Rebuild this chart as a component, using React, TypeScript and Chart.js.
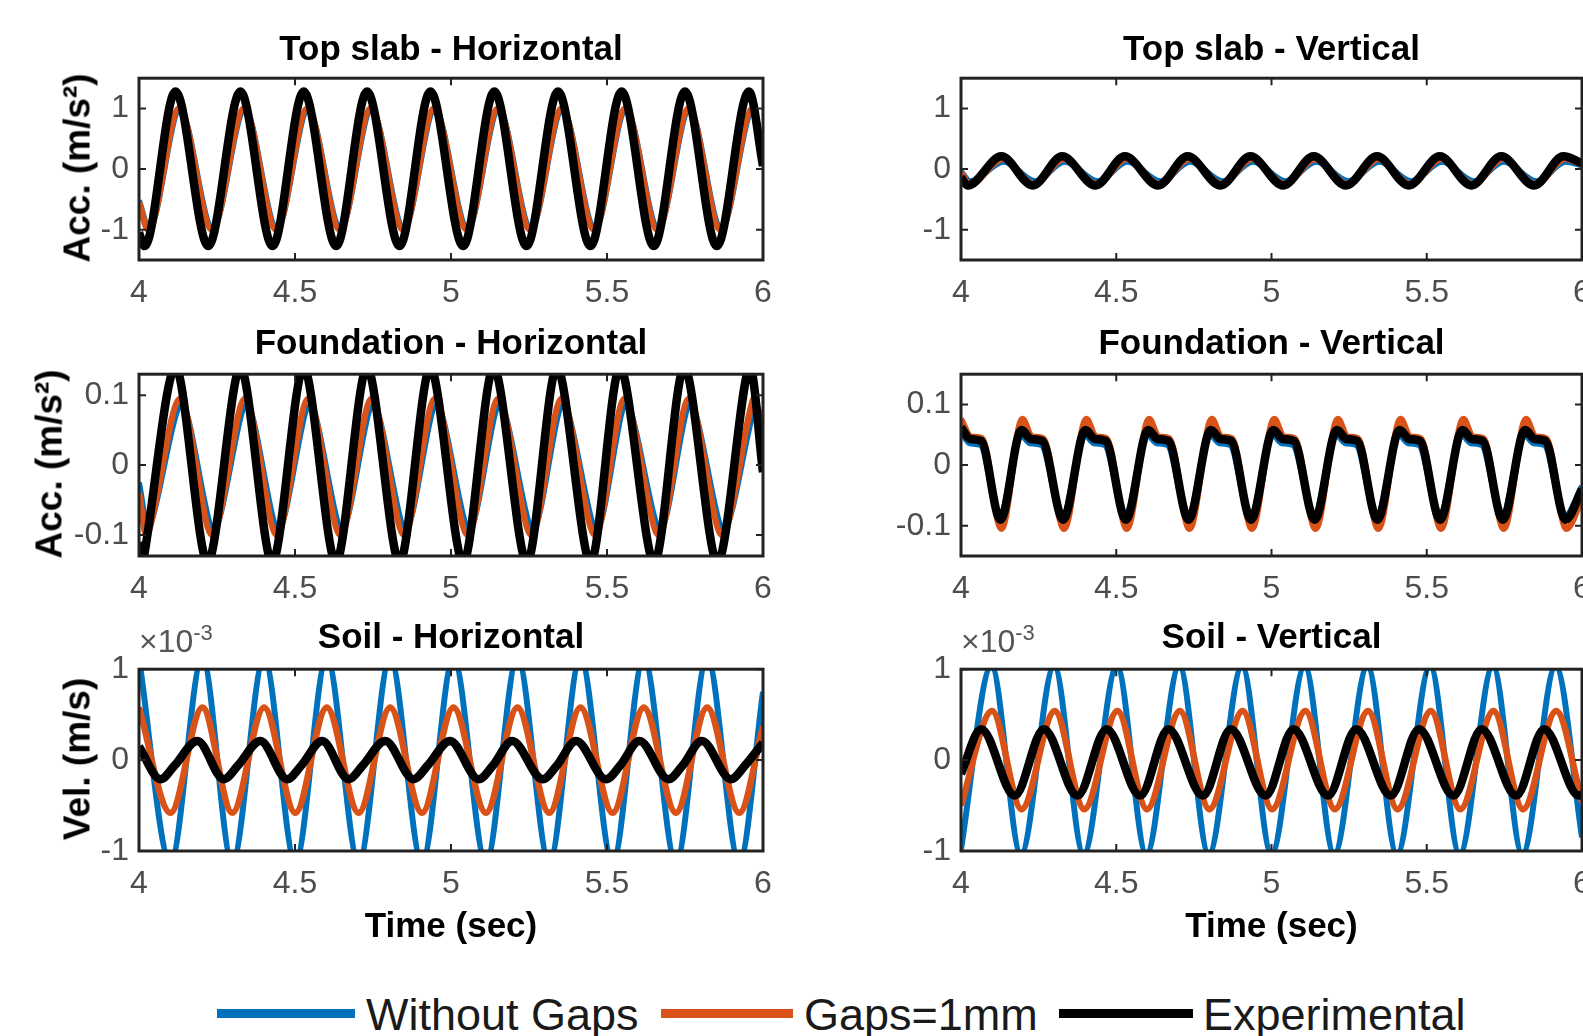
import React, { useEffect, useRef } from "react";
import { Chart, registerables } from "chart.js";

Chart.register(...registerables);

type Pt = [number, number];

// ---------- labels ----------
const seriesNames = ["Without Gaps", "Gaps=1mm", "Experimental"];
const xTicks = [4, 4.5, 5, 5.5, 6];
const accTicks = [-1, 0, 1];
const fndTicks = [-0.1, 0, 0.1];
const velTicks = [-1, 0, 1]; // ×10^-3 m/s

// ---------- Top slab - Horizontal (m/s^2) ----------
const topHNoGap: Pt[] = [[4.000,-0.52],[4.032,-0.97],[4.131,0.97],[4.236,-0.97],[4.339,0.97],[4.442,-0.97],[4.542,0.97],[4.646,-0.97],[4.745,0.97],[4.849,-0.97],[4.948,0.97],[5.053,-0.97],[5.153,0.97],[5.256,-0.97],[5.357,0.97],[5.461,-0.97],[5.561,0.97],[5.664,-0.97],[5.764,0.97],[5.866,-0.97],[5.969,0.97],[6.000,0.15]];
const topHGap: Pt[] = [[4.000,-0.55],[4.030,-1.00],[4.129,1.00],[4.234,-1.00],[4.337,1.00],[4.440,-1.00],[4.540,1.00],[4.644,-1.00],[4.743,1.00],[4.847,-1.00],[4.946,1.00],[5.051,-1.00],[5.151,1.00],[5.254,-1.00],[5.355,1.00],[5.459,-1.00],[5.559,1.00],[5.662,-1.00],[5.762,1.00],[5.864,-1.00],[5.967,1.00],[6.000,0.12]];
const topHExp: Pt[] = [[4.000,-1.05],[4.018,-1.27],[4.117,1.28],[4.222,-1.27],[4.325,1.28],[4.428,-1.27],[4.528,1.28],[4.632,-1.27],[4.731,1.28],[4.835,-1.27],[4.934,1.28],[5.039,-1.27],[5.139,1.28],[5.242,-1.27],[5.343,1.28],[5.447,-1.27],[5.547,1.28],[5.650,-1.27],[5.750,1.28],[5.852,-1.27],[5.955,1.28],[6.000,0.05]];

// ---------- Top slab - Vertical (m/s^2) ----------
const topVNoGap: Pt[] = [[4.000,-0.04],[4.030,-0.20],[4.138,0.12],[4.239,-0.20],[4.334,0.12],[4.441,-0.20],[4.536,0.12],[4.643,-0.20],[4.738,0.12],[4.844,-0.20],[4.940,0.12],[5.046,-0.20],[5.144,0.12],[5.248,-0.20],[5.348,0.12],[5.450,-0.20],[5.550,0.12],[5.652,-0.20],[5.748,0.12],[5.854,-0.20],[5.948,0.12],[6.000,0.06]];
const topVGap: Pt[] = [[4.000,-0.06],[4.028,-0.25],[4.135,0.17],[4.236,-0.25],[4.331,0.17],[4.438,-0.25],[4.533,0.17],[4.640,-0.25],[4.735,0.17],[4.841,-0.25],[4.937,0.17],[5.043,-0.25],[5.141,0.17],[5.245,-0.25],[5.345,0.17],[5.447,-0.25],[5.547,0.17],[5.649,-0.25],[5.745,0.17],[5.851,-0.25],[5.945,0.17],[6.000,0.08]];
const topVExp: Pt[] = [[4.000,-0.14],[4.022,-0.27],[4.130,0.21],[4.231,-0.27],[4.326,0.21],[4.433,-0.27],[4.528,0.21],[4.635,-0.27],[4.730,0.21],[4.836,-0.27],[4.932,0.21],[5.038,-0.27],[5.136,0.21],[5.240,-0.27],[5.340,0.21],[5.442,-0.27],[5.542,0.21],[5.644,-0.27],[5.740,0.21],[5.846,-0.27],[5.940,0.21],[6.000,0.10]];

// ---------- Foundation - Horizontal (m/s^2) ----------
const fndHNoGap: Pt[] = [[4.000,-0.025],[4.032,-0.09],[4.137,0.085],[4.240,-0.09],[4.345,0.085],[4.447,-0.09],[4.548,0.085],[4.651,-0.09],[4.751,0.085],[4.855,-0.09],[4.954,0.085],[5.059,-0.09],[5.157,0.085],[5.263,-0.09],[5.360,0.085],[5.467,-0.09],[5.562,0.085],[5.671,-0.09],[5.768,0.085],[5.874,-0.09],[5.975,0.085],[6.000,0.06]];
const fndHGap: Pt[] = [[4.000,-0.04],[4.027,-0.10],[4.132,0.095],[4.235,-0.10],[4.340,0.095],[4.442,-0.10],[4.543,0.095],[4.646,-0.10],[4.746,0.095],[4.850,-0.10],[4.949,0.095],[5.054,-0.10],[5.152,0.095],[5.258,-0.10],[5.355,0.095],[5.462,-0.10],[5.557,0.095],[5.666,-0.10],[5.763,0.095],[5.869,-0.10],[5.970,0.095],[6.000,0.025]];
const fndHExp: Pt[] = [[4.000,-0.11],[4.012,-0.14],[4.117,0.14],[4.220,-0.14],[4.325,0.14],[4.427,-0.14],[4.528,0.14],[4.631,-0.14],[4.731,0.14],[4.835,-0.14],[4.934,0.14],[5.039,-0.14],[5.137,0.14],[5.243,-0.14],[5.340,0.14],[5.447,-0.14],[5.542,0.14],[5.651,-0.14],[5.748,0.14],[5.854,-0.14],[5.955,0.14],[6.000,-0.01]];

// ---------- Foundation - Vertical (m/s^2) ----------
const fndVNoGap: Pt[] = [[4.000,0.055],[4.028,0.036],[4.063,0.033],[4.124,-0.085],[4.192,0.050],[4.222,0.036],[4.259,0.033],[4.326,-0.085],[4.398,0.050],[4.428,0.036],[4.463,0.033],[4.528,-0.085],[4.600,0.050],[4.630,0.036],[4.665,0.033],[4.730,-0.085],[4.802,0.050],[4.832,0.036],[4.867,0.033],[4.931,-0.085],[5.003,0.050],[5.033,0.036],[5.069,0.033],[5.136,-0.085],[5.208,0.050],[5.238,0.036],[5.273,0.033],[5.338,-0.085],[5.410,0.050],[5.440,0.036],[5.475,0.033],[5.540,-0.085],[5.612,0.050],[5.642,0.036],[5.677,0.033],[5.742,-0.085],[5.814,0.050],[5.844,0.036],[5.879,0.033],[5.944,-0.085],[6.000,-0.035]];
const fndVGap: Pt[] = [[4.000,0.076],[4.032,0.047],[4.068,0.044],[4.130,-0.105],[4.198,0.076],[4.228,0.047],[4.265,0.044],[4.332,-0.105],[4.404,0.076],[4.434,0.047],[4.469,0.044],[4.534,-0.105],[4.606,0.076],[4.636,0.047],[4.671,0.044],[4.736,-0.105],[4.808,0.076],[4.838,0.047],[4.873,0.044],[4.937,-0.105],[5.009,0.076],[5.039,0.047],[5.075,0.044],[5.142,-0.105],[5.214,0.076],[5.244,0.047],[5.279,0.044],[5.344,-0.105],[5.416,0.076],[5.446,0.047],[5.481,0.044],[5.546,-0.105],[5.618,0.076],[5.648,0.047],[5.683,0.044],[5.748,-0.105],[5.820,0.076],[5.850,0.047],[5.885,0.044],[5.950,-0.105],[6.000,-0.055]];
const fndVExp: Pt[] = [[4.000,0.062],[4.030,0.043],[4.065,0.040],[4.127,-0.090],[4.195,0.058],[4.225,0.043],[4.262,0.040],[4.329,-0.090],[4.401,0.058],[4.431,0.043],[4.466,0.040],[4.531,-0.090],[4.603,0.058],[4.633,0.043],[4.668,0.040],[4.733,-0.090],[4.805,0.058],[4.835,0.043],[4.870,0.040],[4.934,-0.090],[5.006,0.058],[5.036,0.043],[5.072,0.040],[5.139,-0.090],[5.211,0.058],[5.241,0.043],[5.276,0.040],[5.341,-0.090],[5.413,0.058],[5.443,0.043],[5.478,0.040],[5.543,-0.090],[5.615,0.058],[5.645,0.043],[5.680,0.040],[5.745,-0.090],[5.817,0.058],[5.847,0.043],[5.882,0.040],[5.947,-0.090],[6.000,-0.040]];

// ---------- Soil - Horizontal (×10^-3 m/s) ----------
const soilHNoGap: Pt[] = [[4.000,1.12],[4.101,-1.12],[4.203,1.12],[4.299,-1.12],[4.401,1.12],[4.501,-1.12],[4.602,1.12],[4.704,-1.12],[4.805,1.12],[4.907,-1.12],[5.008,1.12],[5.112,-1.12],[5.213,1.12],[5.315,-1.12],[5.415,1.12],[5.518,-1.12],[5.618,1.12],[5.721,-1.12],[5.821,1.12],[5.924,-1.12],[6.000,0.75]];
const soilHGap: Pt[] = [[4.000,0.58],[4.101,-0.58],[4.203,0.58],[4.299,-0.58],[4.401,0.58],[4.501,-0.58],[4.602,0.58],[4.704,-0.58],[4.805,0.58],[4.907,-0.58],[5.008,0.58],[5.112,-0.58],[5.213,0.58],[5.315,-0.58],[5.415,0.58],[5.518,-0.58],[5.618,0.58],[5.721,-0.58],[5.821,0.58],[5.924,-0.58],[6.000,0.37]];
const soilHExp: Pt[] = [[4.000,0.15],[4.069,-0.21],[4.114,-0.06],[4.187,0.21],[4.272,-0.21],[4.317,-0.06],[4.389,0.21],[4.475,-0.21],[4.520,-0.06],[4.587,0.21],[4.672,-0.21],[4.717,-0.06],[4.789,0.21],[4.880,-0.21],[4.925,-0.06],[4.997,0.21],[5.089,-0.21],[5.134,-0.06],[5.196,0.21],[5.294,-0.21],[5.339,-0.06],[5.401,0.21],[5.497,-0.21],[5.542,-0.06],[5.604,0.21],[5.697,-0.21],[5.742,-0.06],[5.804,0.21],[5.897,-0.21],[5.942,-0.06],[6.000,0.19]];

// ---------- Soil - Vertical (×10^-3 m/s) ----------
const soilVNoGap: Pt[] = [[4.000,-0.98],[4.098,1.03],[4.193,-1.03],[4.300,1.03],[4.395,-1.03],[4.502,1.03],[4.597,-1.03],[4.703,1.03],[4.798,-1.03],[4.905,1.03],[5.000,-1.03],[5.107,1.03],[5.202,-1.03],[5.309,1.03],[5.404,-1.03],[5.511,1.03],[5.606,-1.03],[5.713,1.03],[5.808,-1.03],[5.915,1.03],[6.000,-0.85]];
const soilVGap: Pt[] = [[4.000,-0.50],[4.100,0.54],[4.195,-0.54],[4.302,0.54],[4.397,-0.54],[4.504,0.54],[4.599,-0.54],[4.705,0.54],[4.800,-0.54],[4.907,0.54],[5.002,-0.54],[5.109,0.54],[5.204,-0.54],[5.311,0.54],[5.406,-0.54],[5.513,0.54],[5.608,-0.54],[5.715,0.54],[5.810,-0.54],[5.917,0.54],[6.000,-0.46]];
const soilVExp: Pt[] = [[4.000,-0.15],[4.065,0.34],[4.173,-0.39],[4.267,0.34],[4.375,-0.39],[4.469,0.34],[4.577,-0.39],[4.668,0.34],[4.779,-0.39],[4.869,0.34],[4.981,-0.39],[5.071,0.34],[5.182,-0.39],[5.273,0.34],[5.384,-0.39],[5.475,0.34],[5.586,-0.39],[5.677,0.34],[5.788,-0.39],[5.878,0.34],[5.990,-0.39],[6.000,-0.38]];

// ---------- styling ----------
const FONT = "'Liberation Sans', Arial, Helvetica, sans-serif";
const COLORS = ["#0072BD", "#D95319", "#000000"];
const WIDTHS = [6, 6.5, 8.5];
const TICK_COLOR = "#4d4d4d";
const AXIS_COLOR = "#222222";

const PAD_L = 130;
const PAD_T = 25;
const PAD_R = 30;
const PAD_B = 60;

type PanelCfg = {
  title: string;
  series: Pt[][];
  yMin: number;
  yMax: number;
  yTicks: number[];
  px: number;
  py: number;
  pw: number;
  ph: number;
  tension?: number;
};

const LX = 139, RX = 961, LW = 624, RW = 621, PH = 186;
const ROWS = [74, 370, 665];

const panels: PanelCfg[] = [
  { title: "Top slab - Horizontal", series: [topHNoGap, topHGap, topHExp], yMin: -1.5, yMax: 1.5, yTicks: accTicks, px: LX, py: ROWS[0], pw: LW, ph: PH },
  { title: "Top slab - Vertical", series: [topVNoGap, topVGap, topVExp], yMin: -1.5, yMax: 1.5, yTicks: accTicks, px: RX, py: ROWS[0], pw: RW, ph: PH },
  { title: "Foundation - Horizontal", series: [fndHNoGap, fndHGap, fndHExp], yMin: -0.13, yMax: 0.13, yTicks: fndTicks, px: LX, py: ROWS[1], pw: LW, ph: PH, tension: 0.3 },
  { title: "Foundation - Vertical", series: [fndVNoGap, fndVGap, fndVExp], yMin: -0.15, yMax: 0.15, yTicks: fndTicks, px: RX, py: ROWS[1], pw: RW, ph: PH },
  { title: "Soil - Horizontal", series: [soilHNoGap, soilHGap, soilHExp], yMin: -1, yMax: 1, yTicks: velTicks, px: LX, py: ROWS[2], pw: LW, ph: PH },
  { title: "Soil - Vertical", series: [soilVNoGap, soilVGap, soilVExp], yMin: -1, yMax: 1, yTicks: velTicks, px: RX, py: ROWS[2], pw: RW, ph: PH },
];

const boxPlugin = {
  id: "matlabBox",
  afterDatasetsDraw(chart: any) {
    const { ctx, chartArea: a, scales } = chart;
    ctx.save();
    ctx.strokeStyle = AXIS_COLOR;
    ctx.lineWidth = 2;
    const L = 7;
    ctx.beginPath();
    scales.x.ticks.forEach((t: any) => {
      const x = scales.x.getPixelForValue(t.value);
      ctx.moveTo(x, a.bottom);
      ctx.lineTo(x, a.bottom - L);
      ctx.moveTo(x, a.top);
      ctx.lineTo(x, a.top + L);
    });
    scales.y.ticks.forEach((t: any) => {
      const y = scales.y.getPixelForValue(t.value);
      ctx.moveTo(a.left, y);
      ctx.lineTo(a.left + L, y);
      ctx.moveTo(a.right, y);
      ctx.lineTo(a.right - L, y);
    });
    ctx.stroke();
    ctx.lineWidth = 3;
    ctx.strokeRect(a.left, a.top, a.right - a.left, a.bottom - a.top);
    ctx.restore();
  },
};

function Panel({ cfg }: { cfg: PanelCfg }) {
  const ref = useRef<HTMLCanvasElement>(null);
  const W = cfg.pw + PAD_L + PAD_R;
  const H = cfg.ph + PAD_T + PAD_B;
  useEffect(() => {
    if (!ref.current) return;
    const chart = new Chart(ref.current, {
      type: "line",
      data: {
        datasets: cfg.series.map((s, i) => ({
          label: seriesNames[i],
          data: s.map(([x, y]) => ({ x, y })),
          borderColor: COLORS[i],
          backgroundColor: COLORS[i],
          borderWidth: WIDTHS[i],
          pointRadius: 0,
          fill: false,
          cubicInterpolationMode: cfg.tension !== undefined ? "default" : "monotone",
          tension: cfg.tension !== undefined ? cfg.tension : 0.4,
          clip: 0,
          order: 3 - i,
          borderJoinStyle: "round",
          borderCapStyle: "butt",
        })),
      } as any,
      options: {
        animation: false,
        responsive: false,
        maintainAspectRatio: false,
        events: [],
        layout: { padding: { top: PAD_T, right: PAD_R, left: 0, bottom: 0 } },
        plugins: {
          legend: { display: false },
          tooltip: { enabled: false },
          title: { display: false },
        },
        scales: {
          x: {
            type: "linear",
            min: 4,
            max: 6,
            grid: { display: false, drawTicks: false },
            border: { display: false },
            afterBuildTicks: (s: any) => {
              s.ticks = xTicks.map((v) => ({ value: v }));
            },
            afterFit: (s: any) => {
              s.height = PAD_B;
            },
            ticks: {
              padding: 14,
              color: TICK_COLOR,
              font: { family: FONT, size: 32 },
              autoSkip: false,
              maxRotation: 0,
              minRotation: 0,
              callback: (v: any) => String(v),
            },
          },
          y: {
            type: "linear",
            min: cfg.yMin,
            max: cfg.yMax,
            grid: { display: false, drawTicks: false },
            border: { display: false },
            afterBuildTicks: (s: any) => {
              s.ticks = cfg.yTicks.map((v) => ({ value: v }));
            },
            afterFit: (s: any) => {
              s.width = PAD_L;
            },
            ticks: {
              padding: 10,
              color: TICK_COLOR,
              font: { family: FONT, size: 32 },
              autoSkip: false,
              callback: (v: any) => String(v),
            },
          },
        },
      } as any,
      plugins: [boxPlugin],
    });
    return () => chart.destroy();
  }, []);
  return (
    <canvas
      ref={ref}
      width={W}
      height={H}
      style={{ position: "absolute", left: cfg.px - PAD_L, top: cfg.py - PAD_T, width: W, height: H }}
    />
  );
}

const ASC = 0.8465; // baseline offset for line-height 1 (Liberation Sans)

function Txt(props: {
  x: number;
  baseline: number;
  size: number;
  bold?: boolean;
  color?: string;
  center?: boolean;
  children: React.ReactNode;
}) {
  const { x, baseline, size, bold, color, center, children } = props;
  return (
    <div
      style={{
        position: "absolute",
        left: x,
        top: baseline - ASC * size,
        fontFamily: FONT,
        fontSize: size,
        fontWeight: bold ? "bold" : "normal",
        lineHeight: 1,
        color: color || "#000",
        whiteSpace: "nowrap",
        transform: center ? "translateX(-50%)" : undefined,
      }}
    >
      {children}
    </div>
  );
}

function VLabel({ cx, cy, text }: { cx: number; cy: number; text: string }) {
  return (
    <div
      style={{
        position: "absolute",
        left: cx,
        top: cy,
        fontFamily: FONT,
        fontSize: 37,
        fontWeight: "bold",
        lineHeight: 1,
        color: "#000",
        whiteSpace: "nowrap",
        transform: "translate(-50%, -50%) rotate(-90deg)",
      }}
    >
      {text}
    </div>
  );
}

function Expo({ x }: { x: number }) {
  return (
    <Txt x={x} baseline={652} size={32} color="#555">
      ×10
      <sup style={{ fontSize: 22, lineHeight: 0, verticalAlign: 12 }}>-3</sup>
    </Txt>
  );
}

const legendItems = [
  { lineX: 217, lineW: 138, textX: 366 },
  { lineX: 661, lineW: 132, textX: 804 },
  { lineX: 1059, lineW: 134, textX: 1203 },
];

export default function App() {
  const cxL = LX + LW / 2;
  const cxR = RX + RW / 2;
  return (
    <div
      style={{
        position: "absolute",
        left: 0,
        top: 0,
        width: 1583,
        height: 1036,
        overflow: "hidden",
        background: "#fff",
      }}
    >
      {panels.map((p, i) => (
        <Panel key={i} cfg={p} />
      ))}
      {panels.map((p, i) => (
        <Txt key={"t" + i} x={p.px + p.pw / 2} baseline={[60, 354, 648][Math.floor(i / 2)]} size={35} bold center>
          {p.title}
        </Txt>
      ))}
      <VLabel cx={76.5} cy={168} text="Acc. (m/s²)" />
      <VLabel cx={48.5} cy={464} text="Acc. (m/s²)" />
      <VLabel cx={76.5} cy={759} text="Vel. (m/s)" />
      <Expo x={139} />
      <Expo x={961} />
      <Txt x={cxL} baseline={937} size={35} bold center>
        Time (sec)
      </Txt>
      <Txt x={cxR} baseline={937} size={35} bold center>
        Time (sec)
      </Txt>
      {legendItems.map((it, i) => (
        <React.Fragment key={"l" + i}>
          <div
            style={{
              position: "absolute",
              left: it.lineX,
              top: 1009,
              width: it.lineW,
              height: 9,
              background: COLORS[i],
            }}
          />
          <Txt x={it.textX} baseline={1030} size={45} color="#1a1a1a">
            {seriesNames[i]}
          </Txt>
        </React.Fragment>
      ))}
    </div>
  );
}
